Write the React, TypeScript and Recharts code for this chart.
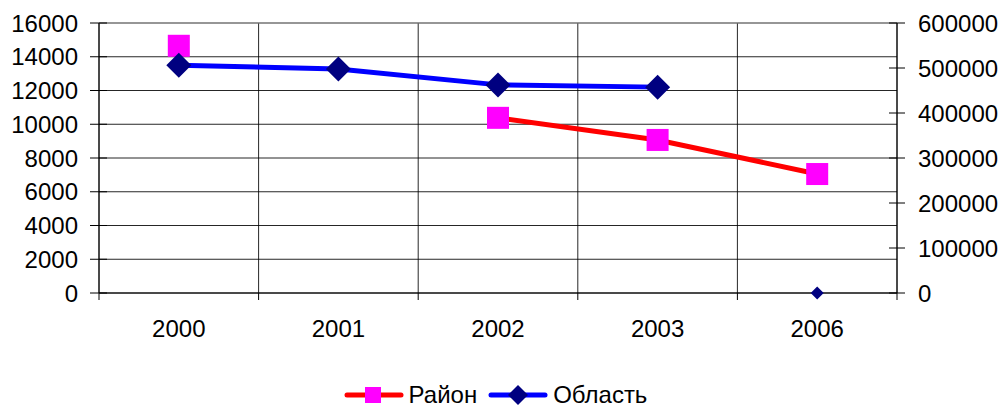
import React from "react";
import {
  LineChart,
  Line,
  XAxis,
  YAxis,
  CartesianGrid,
  Legend,
  ReferenceLine,
} from "recharts";

const years = ["2000", "2001", "2002", "2003", "2006"];
const rayon = [14650, null, 10380, 9070, 7050];
const oblast = [506000, 498000, 462500, 457500, null];
const oblastMissing = [null, null, null, null, 0];
const leftTicks = [0, 2000, 4000, 6000, 8000, 10000, 12000, 14000, 16000];
const rightTicks = [0, 100000, 200000, 300000, 400000, 500000, 600000];
const boundaryTicks = [0, 1, 2, 3, 4, 5];

const data = years.map((y, i) => ({
  year: y,
  idx: i,
  rayon: rayon[i],
  oblast: oblast[i],
  oblastMissing: oblastMissing[i],
}));

const FONT = "'Liberation Sans', Arial, sans-serif";

const Square = (props: any) => {
  const { cx, cy, index } = props;
  if (cx == null || cy == null) return <g key={`sq-${index}`} />;
  return <rect key={`sq-${index}`} x={cx - 11} y={cy - 11} width={22} height={22} fill="#FF00FF" />;
};

const makeDiamond = (r: number) => (props: any) => {
  const { cx, cy, index } = props;
  if (cx == null || cy == null) return <g key={`dm-${r}-${index}`} />;
  return (
    <path
      key={`dm-${r}-${index}`}
      d={`M${cx},${cy - r} L${cx + r},${cy} L${cx},${cy + r} L${cx - r},${cy} Z`}
      fill="#000080"
    />
  );
};

const BigDiamond = makeDiamond(12.5);
const SmallDiamond = makeDiamond(6.5);

const LeftTick = (props: any) => {
  const { x, y, payload } = props;
  return (
    <g>
      <line x1={x - 9} x2={x + 8} y1={y} y2={y} stroke="#000" strokeWidth={1} />
      <text x={x - 21} y={y} dy="0.36em" textAnchor="end" fill="#000" fontSize={24} fontFamily={FONT}>
        {payload.value}
      </text>
    </g>
  );
};

const RightTick = (props: any) => {
  const { x, y, payload } = props;
  return (
    <g>
      <line x1={x - 8} x2={x + 8} y1={y} y2={y} stroke="#000" strokeWidth={1} />
      <text x={x + 21} y={y} dy="0.36em" textAnchor="start" fill="#000" fontSize={24} fontFamily={FONT}>
        {payload.value}
      </text>
    </g>
  );
};

const EmptyTick = () => <g />;

const LegendContent = () => (
  <div
    style={{
      display: "flex",
      justifyContent: "center",
      alignItems: "center",
      height: 24,
      fontFamily: FONT,
      fontSize: 24,
      color: "#000",
      paddingRight: 14,
    }}
  >
    <svg width={60} height={24}>
      <line x1={3} x2={57} y1={12} y2={12} stroke="#FF0000" strokeWidth={5} strokeLinecap="round" />
      <rect x={21} y={4} width={16} height={16} fill="#FF00FF" />
    </svg>
    <span style={{ marginLeft: 5, lineHeight: "24px" }}>Район</span>
    <svg width={60} height={24} style={{ marginLeft: 11 }}>
      <line x1={3} x2={57} y1={12} y2={12} stroke="#0000FF" strokeWidth={5} strokeLinecap="round" />
      <path d="M30,2 L40,12 L30,22 L20,12 Z" fill="#000080" />
    </svg>
    <span style={{ marginLeft: 5, lineHeight: "24px" }}>Область</span>
  </div>
);

const verticalBoundaries = ({ offset }: any) =>
  boundaryTicks.map((b) => offset.left + (b * offset.width) / years.length);

export default function App() {
  return (
    <div style={{ position: "absolute", left: 0, top: 0, width: 1005, height: 407, background: "#fff" }}>
      <LineChart
        width={1005}
        height={407}
        data={data}
        margin={{ top: 23, right: 0, bottom: 0, left: 0 }}
      >
        <XAxis
          xAxisId="aBound"
          type="number"
          dataKey="idx"
          domain={[0, 5]}
          ticks={boundaryTicks}
          interval={0}
          tick={EmptyTick}
          tickSize={7}
          height={1}
          stroke="#000"
          axisLine={{ stroke: "#000" }}
          tickLine={{ stroke: "#000" }}
          allowDataOverflow
        />
        <XAxis
          xAxisId="cat"
          dataKey="year"
          scale="band"
          height={89}
          tickLine={false}
          axisLine={false}
          tickSize={0}
          tickMargin={26}
          tick={{ fill: "#000", fontSize: 24, fontFamily: FONT }}
          interval={0}
        />
        <YAxis
          yAxisId="left"
          orientation="left"
          width={99}
          domain={[0, 16000]}
          ticks={leftTicks}
          interval={0}
          tickSize={0}
          tickMargin={0}
          tickLine={false}
          axisLine={{ stroke: "#000" }}
          tick={<LeftTick />}
        />
        <YAxis
          yAxisId="right"
          orientation="right"
          width={108}
          domain={[0, 600000]}
          ticks={rightTicks}
          interval={0}
          tickSize={0}
          tickMargin={0}
          tickLine={false}
          axisLine={{ stroke: "#000" }}
          tick={<RightTick />}
        />
        <CartesianGrid
          xAxisId="cat"
          yAxisId="left"
          stroke="#000"
          strokeOpacity={0.85}
          verticalCoordinatesGenerator={verticalBoundaries}
        />
        <ReferenceLine xAxisId="cat" yAxisId="left" y={16000} stroke="#999" />
        <Legend verticalAlign="bottom" height={24} content={<LegendContent />} />
        <Line
          xAxisId="cat"
          yAxisId="left"
          dataKey="rayon"
          name="Район"
          stroke="#FF0000"
          strokeWidth={5}
          dot={Square}
          activeDot={false}
          isAnimationActive={false}
          connectNulls={false}
        />
        <Line
          xAxisId="cat"
          yAxisId="right"
          dataKey="oblast"
          name="Область"
          stroke="#0000FF"
          strokeWidth={5}
          dot={BigDiamond}
          activeDot={false}
          isAnimationActive={false}
          connectNulls={false}
        />
        <Line
          xAxisId="cat"
          yAxisId="right"
          dataKey="oblastMissing"
          legendType="none"
          stroke="none"
          dot={SmallDiamond}
          activeDot={false}
          isAnimationActive={false}
        />
      </LineChart>
    </div>
  );
}
